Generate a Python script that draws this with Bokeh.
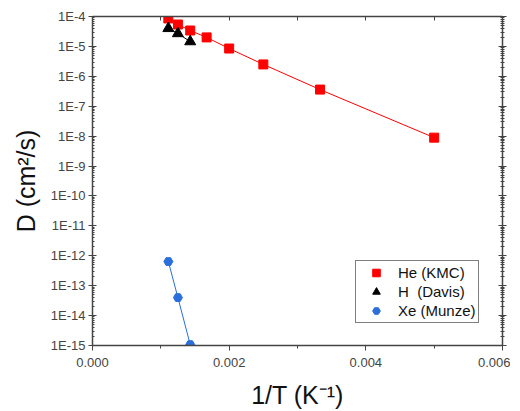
from bokeh.plotting import figure
from bokeh.models import (LinearAxis, LogAxis, FixedTicker, CustomJSTickFormatter,
                          NumeralTickFormatter, Legend, LegendItem, Range1d)
from bokeh.embed import file_html
from bokeh.resources import INLINE

# ---- data ----
he_x = [0.00111, 0.00125, 0.00143, 0.00167, 0.00200, 0.00250, 0.00333, 0.00500]
he_d = [8.6e-5, 5.4e-5, 3.4e-5, 2.0e-5, 8.5e-6, 2.5e-6, 3.6e-7, 8.9e-9]
h_x = [0.00111, 0.00125, 0.00143]
h_d = [4.0e-5, 2.7e-5, 1.45e-5]
xe_x = [0.00111, 0.00125, 0.00143]
xe_d = [6.4e-13, 4.0e-14, 1.07e-15]

x_major = [0.0, 0.002, 0.004, 0.006]
x_minor = [0.001, 0.003, 0.005]
y_exps = list(range(-15, -3))
y_major = [10.0 ** e for e in y_exps]
y_minor = [k * 10.0 ** e for e in range(-15, -4) for k in range(2, 10)]

labels = ["He (KMC)", "H  (Davis)", "Xe (Munze)"]
colors = ["#ff0000", "#000000", "#2a6fdb"]

FONT = "Liberation Sans"
AXC = "#444444"

p = figure(frame_width=410, frame_height=329, output_backend="svg", toolbar_location=None,
           y_axis_type="log", x_axis_type="linear",
           x_range=Range1d(0, 0.006), y_range=Range1d(1e-15, 1e-4),
           min_border_left=92, min_border_right=8, min_border_top=16, min_border_bottom=50)
p.grid.visible = False
p.outline_line_color = None
p.background_fill_color = "white"
p.border_fill_color = "white"

# bottom axis
xa = p.xaxis[0]
xa.ticker = FixedTicker(ticks=x_major, minor_ticks=x_minor)
xa.formatter = NumeralTickFormatter(format="0.000")
xa.axis_label = "1/T (K\u207b\u00b9)"
xa.axis_label_text_font = FONT
xa.axis_label_text_font_size = "25px"
xa.axis_label_text_font_style = "normal"
xa.axis_label_text_color = "#111111"
xa.axis_label_standoff = 11
xa.major_label_text_font = FONT
xa.major_label_text_font_size = "13px"
xa.major_label_text_color = AXC
xa.major_label_standoff = 7
xa.major_tick_in = 0
xa.major_tick_out = 5
xa.minor_tick_in = 0
xa.minor_tick_out = 3
xa.axis_line_color = AXC
xa.major_tick_line_color = AXC
xa.minor_tick_line_color = AXC
xa.axis_line_width = 1.5

# left axis
ya = p.yaxis[0]
ya.ticker = FixedTicker(ticks=y_major, minor_ticks=y_minor)
ya.formatter = CustomJSTickFormatter(code="return '1E' + Math.round(Math.log10(tick)).toString();")
ya.axis_label = "D (cm\u00b2/s)"
ya.axis_label_text_font = FONT
ya.axis_label_text_font_size = "25px"
ya.axis_label_text_font_style = "normal"
ya.axis_label_text_color = "#111111"
ya.axis_label_standoff = 8
ya.major_label_text_font = FONT
ya.major_label_text_font_size = "13px"
ya.major_label_text_color = AXC
ya.major_label_standoff = 3
ya.major_tick_in = 4
ya.major_tick_out = 4
ya.minor_tick_in = 2
ya.minor_tick_out = 0
ya.axis_line_color = AXC
ya.major_tick_line_color = AXC
ya.minor_tick_line_color = AXC
ya.axis_line_width = 1.5

# top axis (ticks only)
ta = LinearAxis(ticker=FixedTicker(ticks=x_major[1:-1] + x_minor),
                formatter=CustomJSTickFormatter(code="return '';"),
                major_tick_in=4, major_tick_out=0, minor_tick_in=0, minor_tick_out=0,
                axis_line_color=AXC, major_tick_line_color=AXC, axis_line_width=1.5,
                major_label_text_font_size="1px", major_label_standoff=0)
p.add_layout(ta, "above")

# right axis (ticks only)
ra = LogAxis(ticker=FixedTicker(ticks=y_major, minor_ticks=y_minor),
             formatter=CustomJSTickFormatter(code="return '';"),
             major_tick_in=4, major_tick_out=4, minor_tick_in=2, minor_tick_out=2,
             axis_line_color=AXC, major_tick_line_color=AXC, minor_tick_line_color=AXC,
             axis_line_width=1.5, major_label_text_font_size="1px", major_label_standoff=0)
p.add_layout(ra, "right")

# series
p.line(he_x, he_d, line_color=colors[0], line_width=1)
r1 = p.scatter(he_x, he_d, marker="square", size=9, fill_color=colors[0], line_color=colors[0])
p.line(h_x, h_d, line_color=colors[1], line_width=1)
r2 = p.scatter(h_x, h_d, marker="triangle", size=11, fill_color=colors[1], line_color=colors[1])
p.line(xe_x, xe_d, line_color=colors[2], line_width=1)
r3 = p.scatter(xe_x, xe_d, marker="hex", size=9, fill_color=colors[2], line_color=colors[2])

legend = Legend(items=[LegendItem(label=labels[0], renderers=[r1]),
                       LegendItem(label=labels[1], renderers=[r2]),
                       LegendItem(label=labels[2], renderers=[r3])],
                location=(263, 22), padding=2, spacing=0, margin=0,
                glyph_width=36, glyph_height=19, label_height=19, label_standoff=4,
                label_text_font=FONT, label_text_font_size="15px", label_text_color="#111111",
                border_line_color="black", border_line_width=1,
                background_fill_alpha=1)
p.add_layout(legend, "center")

open("out.html", "w").write(file_html(p, INLINE))
